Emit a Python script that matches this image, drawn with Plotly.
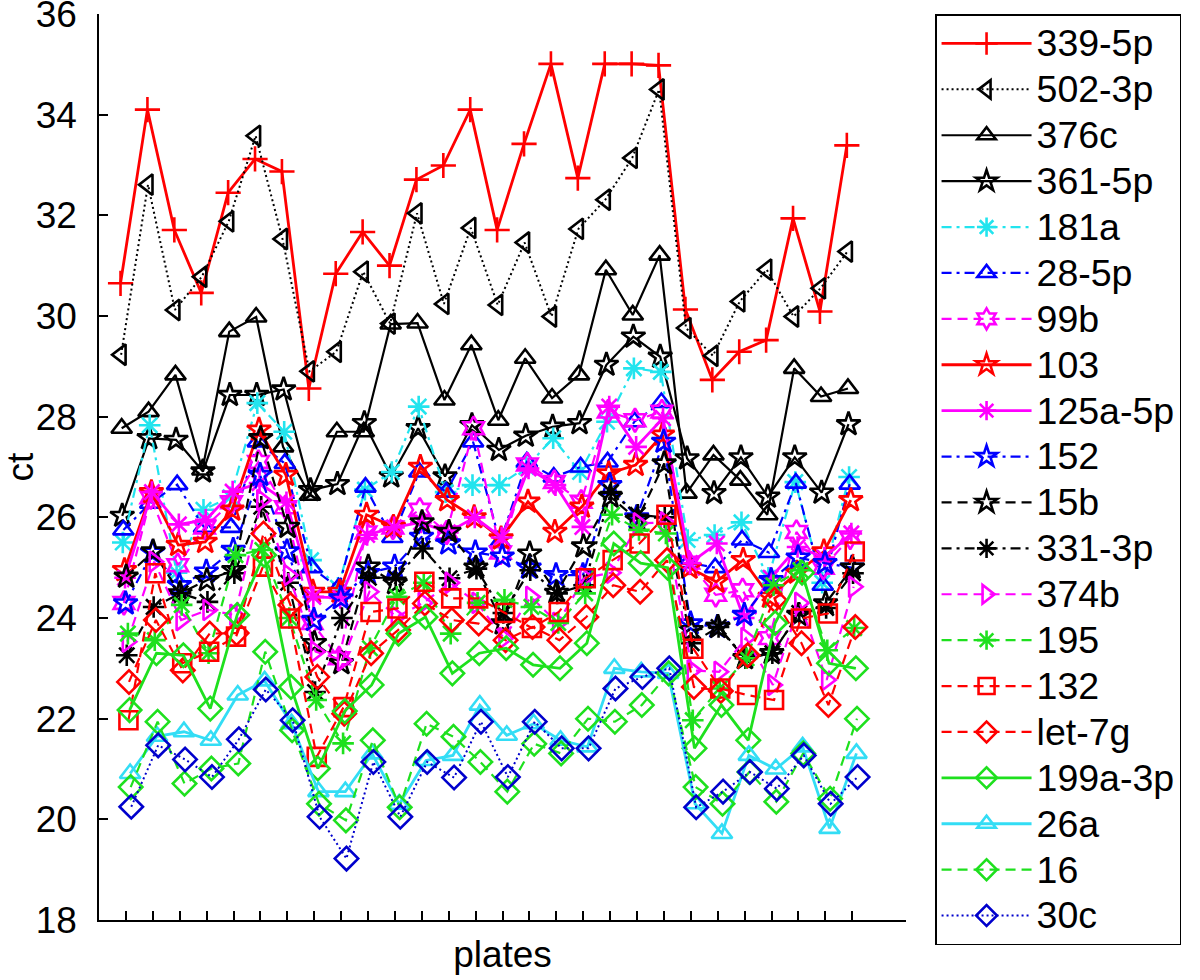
import plotly.graph_objects as go

plates = list(range(1, 29))

names = ["339-5p", "502-3p", "376c", "361-5p", "181a", "28-5p", "99b", "103",
         "125a-5p", "152", "15b", "331-3p", "374b", "195", "132", "let-7g",
         "199a-3p", "26a", "16", "30c"]

mir_339_5p = [30.65, 34.10, 31.71, 30.46, 32.45, 33.12, 32.87, 28.56, 30.84, 31.67, 31.00, 32.71, 32.99, 34.10,
              31.71, 33.42, 35.01, 32.74, 35.01, 35.01, 34.98, 30.13, 28.73, 29.29, 29.52, 31.94, 30.09, 33.39]
mir_502_3p = [29.23, 32.61, 30.12, 30.78, 31.88, 33.58, 31.53, 28.90, 29.29, 30.88, 29.85, 32.04, 30.24, 31.75,
              30.22, 31.46, 29.99, 31.73, 32.31, 33.14, 34.50, 29.76, 29.21, 30.29, 30.92, 29.99, 30.55, 31.28]
mir_376c = [27.77, 28.10, 28.83, 26.94, 29.69, 29.98, 27.40, 26.44, 27.70, 27.70, 29.84, 29.86, 28.33, 29.43,
            27.93, 29.16, 28.37, 28.83, 30.92, 30.02, 31.21, 26.48, 27.24, 26.74, 26.05, 28.96, 28.40, 28.56]
mir_361_5p = [26.03, 27.57, 27.54, 26.91, 28.43, 28.43, 28.54, 26.54, 26.66, 27.87, 26.81, 27.77, 26.81, 27.83,
              27.34, 27.62, 27.80, 27.87, 29.03, 29.59, 29.19, 27.17, 26.48, 27.19, 26.41, 27.19, 26.49, 27.85]
mir_181a = [25.50, 27.83, 24.90, 26.15, 26.40, 28.27, 27.70, 25.15, 24.60, 26.55, 26.90, 28.20, 26.50, 26.64,
            26.64, 27.00, 27.57, 26.90, 27.90, 28.96, 28.89, 25.55, 25.65, 25.90, 24.80, 26.70, 24.70, 26.80]
mir_28_5p = [25.75, 26.28, 26.65, 25.80, 25.80, 27.50, 27.07, 25.00, 24.60, 26.60, 25.60, 26.90, 26.50, 27.50,
             25.50, 27.10, 26.80, 27.00, 27.10, 27.90, 28.28, 25.10, 25.00, 25.55, 25.30, 26.68, 24.65, 26.66]
mir_99b = [24.30, 26.40, 25.05, 25.80, 26.30, 27.10, 26.20, 23.90, 23.20, 25.70, 25.80, 26.15, 25.70, 27.77,
           25.30, 27.05, 26.70, 26.31, 28.10, 27.93, 28.10, 25.10, 24.46, 24.55, 23.60, 25.71, 25.00, 25.60]
mir_103 = [24.95, 26.50, 25.45, 25.51, 26.15, 27.74, 26.84, 24.52, 24.52, 26.05, 25.81, 27.00, 26.34, 26.00,
           25.58, 26.31, 25.71, 26.21, 26.87, 27.04, 27.64, 25.00, 24.72, 25.15, 24.42, 24.90, 25.32, 26.34]
mir_125a_5p = [24.80, 26.50, 25.86, 25.95, 26.51, 26.68, 26.30, 24.42, 24.40, 25.65, 25.80, 25.90, 25.70, 26.00,
               25.60, 26.97, 26.64, 25.81, 28.20, 27.40, 27.97, 25.09, 25.48, 24.00, 24.80, 25.41, 25.20, 25.68]
mir_152 = [24.29, 25.30, 24.65, 24.92, 25.35, 26.84, 25.32, 23.96, 24.39, 24.89, 25.02, 25.61, 25.48, 25.30,
           25.22, 25.00, 24.85, 24.85, 26.64, 26.00, 27.50, 23.89, 23.82, 24.06, 24.75, 25.20, 25.09, 25.00]
mir_15b = [24.82, 25.32, 24.49, 24.75, 24.95, 27.57, 25.81, 23.50, 23.10, 25.02, 24.69, 25.90, 25.71, 25.00,
           23.89, 25.28, 24.50, 25.42, 26.41, 25.95, 27.07, 23.76, 23.82, 23.20, 23.30, 24.06, 24.29, 25.00]
mir_331_3p = [23.26, 24.22, 24.49, 24.32, 24.89, 26.21, 24.70, 22.53, 24.00, 24.80, 24.80, 25.38, 24.79, 24.98,
              24.10, 24.95, 24.49, 24.65, 26.50, 26.05, 26.00, 23.50, 23.82, 23.20, 23.30, 24.10, 24.20, 24.89]
mir_374b = [23.53, 25.12, 23.96, 24.16, 24.06, 26.34, 24.85, 23.33, 23.16, 24.52, 24.02, 24.30, 24.70, 24.30,
            23.60, 24.42, 23.90, 24.80, 24.90, 25.88, 25.90, 22.96, 22.93, 23.60, 22.67, 24.30, 22.77, 24.62]
mir_195 = [23.69, 23.56, 24.26, 23.30, 25.25, 25.35, 24.00, 22.37, 21.51, 23.40, 24.42, 24.70, 23.69, 24.30,
           24.36, 24.22, 23.90, 24.49, 26.05, 25.75, 25.68, 21.97, 22.60, 23.20, 24.65, 24.95, 23.36, 23.80]
mir_132 = [21.97, 24.89, 23.10, 23.33, 23.63, 25.02, 23.99, 21.24, 22.23, 24.12, 24.19, 24.72, 24.39, 24.39,
           24.10, 23.80, 24.12, 24.79, 25.15, 25.48, 26.05, 23.39, 22.60, 22.47, 22.37, 23.99, 24.09, 25.32]
mir_let_7g = [22.73, 23.96, 22.96, 23.69, 23.70, 25.68, 24.26, 22.83, 22.10, 23.30, 23.76, 24.29, 23.96, 23.89,
              23.56, 23.82, 23.56, 24.02, 24.65, 24.52, 25.15, 22.63, 22.55, 23.26, 24.36, 23.50, 22.27, 23.82]
mir_199a_3p = [22.17, 23.30, 23.26, 22.20, 24.06, 25.25, 22.63, 21.01, 22.15, 22.67, 23.69, 24.02, 22.90, 23.30,
               23.40, 23.07, 23.00, 23.50, 25.48, 25.09, 25.00, 21.41, 22.27, 21.57, 23.90, 24.90, 23.10, 23.00]
mir_26a = [20.91, 21.65, 21.74, 21.57, 22.47, 22.75, 21.90, 20.55, 20.55, 21.30, 20.30, 21.17, 21.27, 22.27,
           21.67, 21.90, 21.57, 21.44, 23.00, 22.93, 22.90, 20.31, 19.72, 21.27, 21.00, 21.44, 19.82, 21.31]
mir_16 = [20.64, 21.94, 20.71, 21.01, 21.11, 23.33, 21.77, 20.31, 19.98, 21.57, 20.24, 21.90, 21.64, 21.14,
          20.55, 21.50, 21.31, 22.00, 21.94, 22.27, 22.90, 20.64, 20.31, 20.94, 20.35, 21.31, 20.41, 22.00]
mir_30c = [20.25, 21.47, 21.19, 20.84, 21.59, 22.58, 21.97, 20.05, 19.22, 21.14, 20.05, 21.14, 20.83, 21.94,
           20.84, 21.94, 21.41, 21.41, 22.60, 22.83, 23.00, 20.24, 20.55, 20.94, 20.61, 21.27, 20.31, 20.84]

series = [mir_339_5p, mir_502_3p, mir_376c, mir_361_5p, mir_181a, mir_28_5p, mir_99b, mir_103,
          mir_125a_5p, mir_152, mir_15b, mir_331_3p, mir_374b, mir_195, mir_132, mir_let_7g,
          mir_199a_3p, mir_26a, mir_16, mir_30c]

RED, BLK, CYN, BLU, MAG, GRN = "#ff0000", "#000000", "#22e4ee", "#0000ff", "#ff00ff", "#1ee01e"
SOLID, DOT, DASH, DASHDOT = "solid", "2px,3px", "10px,6px", "10px,5px,3px,5px"
styles = [
    (RED, SOLID, "cross-thin-open", 2.8),
    (BLK, DOT, "triangle-left-open", 2),
    (BLK, SOLID, "triangle-up-open", 2.2),
    (BLK, SOLID, "star-open", 2.2),
    (CYN, DASHDOT, "asterisk-open", 2.2),
    (BLU, DASHDOT, "triangle-up-open", 2.2),
    (MAG, DASH, "hexagram-open", 2.2),
    (RED, SOLID, "star-open", 2.8),
    (MAG, SOLID, "asterisk-open", 2.8),
    (BLU, DASHDOT, "star-open", 2.2),
    (BLK, DASH, "star-open", 2.2),
    (BLK, DASHDOT, "asterisk-open", 2.2),
    (MAG, DASH, "triangle-right-open", 2.2),
    (GRN, DASH, "asterisk-open", 2.2),
    (RED, DASH, "square-open", 2.2),
    (RED, DASH, "diamond-open", 2.2),
    (GRN, SOLID, "diamond-open", 2.8),
    ("#33ddf5", SOLID, "triangle-up-open", 2.8),
    (GRN, DASH, "diamond-open", 2.2),
    ("#0000cc", DOT, "diamond-open", 2),
]

LEGEND_TEXT_PX = 37.5

fig = go.Figure()
n = len(series)
for k, (name, vals, st) in enumerate(zip(names, series, styles)):
    color, dash, sym, lw = st
    off = (k - (n - 1) / 2) * 0.021
    fig.add_trace(go.Scatter(
        x=[p + off for p in plates], y=vals, mode="lines+markers",
        name=f'<span style="font-size:{LEGEND_TEXT_PX}px">{name}</span>',
        line=dict(color=color, dash=dash, width=lw),
        marker=dict(symbol=sym, size=18, color=color, line=dict(color=color, width=2.6)),
    ))

FONT = "Liberation Sans, Arial, sans-serif"
legend = dict(
    x=1.036, y=1.0, xanchor="left", yanchor="top",
    bordercolor="black", borderwidth=1.5, bgcolor="white",
    font=dict(family=FONT, size=33, color="black"),
    itemwidth=90, tracegroupgap=0,
)
fig.update_layout(
    width=1200, height=980,
    paper_bgcolor="white", plot_bgcolor="white",
    margin=dict(l=99, r=294, t=14, b=60, autoexpand=False),
    font=dict(family=FONT, color="black", size=36),
    showlegend=True,
    legend=legend,
    xaxis=dict(
        range=[0, 30], tickvals=plates, showticklabels=False, automargin=False,
        ticks="inside", ticklen=9, tickwidth=1.5, tickcolor="black",
        showline=True, linecolor="black", linewidth=1.5,
        showgrid=False, zeroline=False,
        title=dict(text="plates", font=dict(size=37), standoff=20),
    ),
    yaxis=dict(
        range=[18, 36], dtick=2, tick0=18, automargin=False,
        ticks="inside", ticklen=9, tickwidth=1.5, tickcolor="black",
        showline=True, linecolor="black", linewidth=1.5,
        showgrid=False, zeroline=False, ticklabeloverflow="allow",
        tickfont=dict(size=37), ticklabelstandoff=13,
        title=dict(text="ct", font=dict(size=37), standoff=16),
    ),
)
try:
    fig.update_layout(legend_maxheight=960)
except (ValueError, AttributeError):
    fig.update_layout(legend_font_size=32)

fig.write_html("out.html", config={"displayModeBar": False},
               post_script="document.body.style.margin='0px';")
